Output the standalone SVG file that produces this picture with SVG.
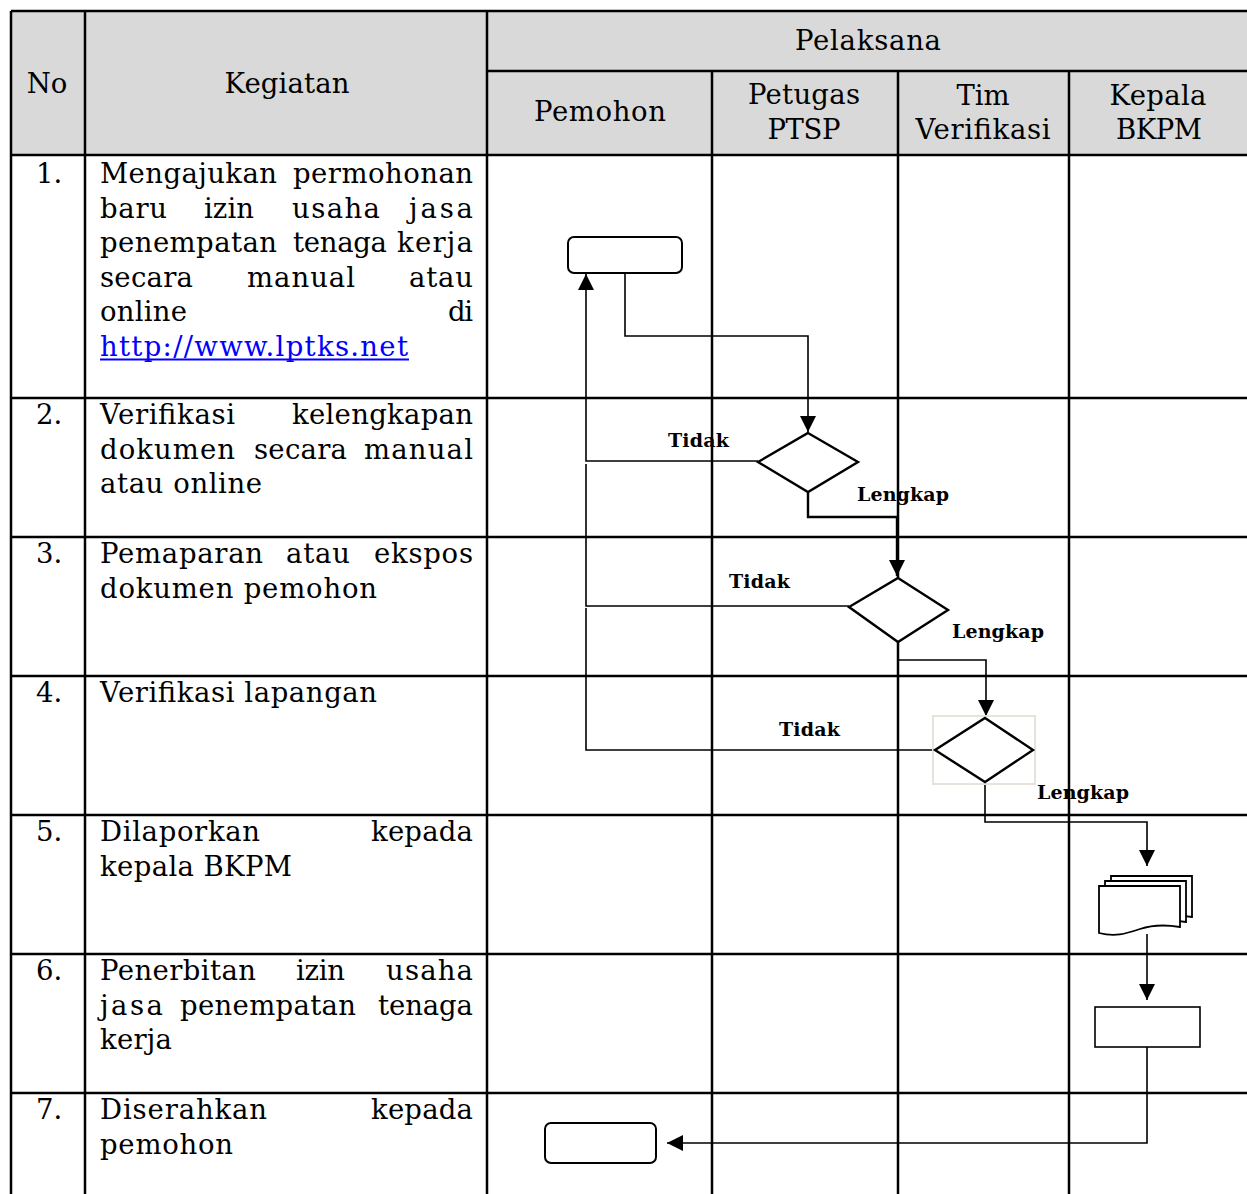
<svg xmlns="http://www.w3.org/2000/svg" width="1247" height="1194" viewBox="0 0 1247 1194">
<style>
.t{font-family:"DejaVu Serif",serif;font-size:27.5px;fill:#000}
.c{text-anchor:middle}
.lbl{font-family:"DejaVu Serif",serif;font-weight:bold;font-size:19px;fill:#000}
.grid{stroke:#000;stroke-width:2.5;fill:none}
.conn{stroke:#000;stroke-width:1.6;fill:none}
.arr{marker-end:url(#ah)}
.shape{fill:#fff;stroke:#000;stroke-width:2.4}
.link{fill:#0000ff}
</style>
<defs>
<marker id="ah" viewBox="0 0 16 16" markerWidth="16" markerHeight="16" refX="16" refY="8" markerUnits="userSpaceOnUse" orient="auto">
<path d="M0,0 L16,8 L0,16 z" fill="#000"/>
</marker>
</defs>
<rect width="1247" height="1194" fill="#fff"/>
<g id="table">
<rect x="11" y="11" width="1236" height="144" fill="#d9d9d9"/>
<path class="grid" d="M11,11 H1247 M487,71 H1247 M11,155 H1247 M11,398 H1247 M11,537 H1247 M11,676 H1247 M11,815 H1247 M11,954 H1247 M11,1093 H1247 M11,11 V1194 M85,11 V1194 M487,11 V1194 M712,71 V1194 M898,71 V1194 M1069,71 V1194"/>
<text class="t c" x="47" y="93">No</text>
<text class="t c" x="287" y="93" textLength="125">Kegiatan</text>
<text class="t c" x="868" y="50" textLength="146">Pelaksana</text>
<text class="t c" x="600" y="121" textLength="132">Pemohon</text>
<text class="t c" x="804" y="104" textLength="112">Petugas</text>
<text class="t c" x="804" y="139" textLength="73">PTSP</text>
<text class="t c" x="983" y="105" textLength="53">Tim</text>
<text class="t c" x="983" y="139" textLength="135">Verifikasi</text>
<text class="t c" x="1158" y="105" textLength="97">Kepala</text>
<text class="t c" x="1159" y="139" textLength="86">BKPM</text>
</g>
<g id="rows">
<text class="t" x="36" y="183">1.</text>
<text class="t" x="100" y="183" textLength="177">Mengajukan</text>
<text class="t" x="293" y="183" textLength="180">permohonan</text>
<text class="t" x="100" y="217.5" textLength="67">baru</text>
<text class="t" x="204" y="217.5" textLength="50">izin</text>
<text class="t" x="292" y="217.5" textLength="88">usaha</text>
<text class="t" x="409" y="217.5" textLength="64">jasa</text>
<text class="t" x="100" y="252" textLength="177">penempatan</text>
<text class="t" x="293" y="252" textLength="94">tenaga</text>
<text class="t" x="397" y="252" textLength="76">kerja</text>
<text class="t" x="100" y="286.5" textLength="93">secara</text>
<text class="t" x="247" y="286.5" textLength="108">manual</text>
<text class="t" x="409" y="286.5" textLength="64">atau</text>
<text class="t" x="100" y="321" textLength="87">online</text>
<text class="t" x="448" y="321" textLength="25">di</text>
<text class="t link" x="100" y="355.5" textLength="308">http://www.lptks.net</text>
<line x1="100" y1="359.5" x2="409" y2="359.5" stroke="#0000ff" stroke-width="1.8"/>

<text class="t" x="36" y="424">2.</text>
<text class="t" x="100" y="424" textLength="135">Verifikasi</text>
<text class="t" x="292" y="424" textLength="181">kelengkapan</text>
<text class="t" x="100" y="458.5" textLength="135">dokumen</text>
<text class="t" x="254" y="458.5" textLength="93">secara</text>
<text class="t" x="364" y="458.5" textLength="109">manual</text>
<text class="t" x="100" y="493" textLength="162">atau online</text>

<text class="t" x="36" y="563">3.</text>
<text class="t" x="100" y="563" textLength="163">Pemaparan</text>
<text class="t" x="286" y="563" textLength="64">atau</text>
<text class="t" x="374" y="563" textLength="99">ekspos</text>
<text class="t" x="100" y="597.5" textLength="277">dokumen pemohon</text>

<text class="t" x="36" y="702">4.</text>
<text class="t" x="100" y="702" textLength="277">Verifikasi lapangan</text>

<text class="t" x="36" y="841">5.</text>
<text class="t" x="100" y="841" textLength="160">Dilaporkan</text>
<text class="t" x="371" y="841" textLength="102">kepada</text>
<text class="t" x="100" y="875.5" textLength="192">kepala BKPM</text>

<text class="t" x="36" y="980">6.</text>
<text class="t" x="100" y="980" textLength="156">Penerbitan</text>
<text class="t" x="296" y="980" textLength="49">izin</text>
<text class="t" x="386" y="980" textLength="87">usaha</text>
<text class="t" x="100" y="1014.5" textLength="63">jasa</text>
<text class="t" x="180" y="1014.5" textLength="176">penempatan</text>
<text class="t" x="378" y="1014.5" textLength="95">tenaga</text>
<text class="t" x="100" y="1049" textLength="72">kerja</text>

<text class="t" x="36" y="1119">7.</text>
<text class="t" x="100" y="1119" textLength="167">Diserahkan</text>
<text class="t" x="371" y="1119" textLength="102">kepada</text>
<text class="t" x="100" y="1153.5" textLength="133">pemohon</text>
</g>
<g id="connectors">
<path class="conn arr" d="M625,273 V336 H808 V432"/>
<path class="conn arr" d="M758,461 H586 V274"/>
<path class="conn" d="M849,606 H586 V464"/>
<path class="conn" d="M934,750 H586 V608"/>
<path class="conn arr" d="M808,492 V517 H897 V576" style="stroke-width:2.4"/>
<path class="conn arr" d="M898,642 V660 H986 V716"/>
<path class="conn arr" d="M985,782 V822 H1147 V866"/>
<path class="conn arr" d="M1147,934 V1000"/>
<path class="conn arr" d="M1147,1047 V1143 H667"/>
</g>
<g id="labels">
<text class="lbl" x="668" y="447" textLength="61">Tidak</text>
<text class="lbl" x="857" y="501" textLength="92">Lengkap</text>
<text class="lbl" x="729" y="588" textLength="61">Tidak</text>
<text class="lbl" x="952" y="638" textLength="92">Lengkap</text>
<text class="lbl" x="779" y="736" textLength="61">Tidak</text>
<text class="lbl" x="1037" y="799" textLength="92">Lengkap</text>
</g>
<g id="start">
<rect class="shape" x="568" y="237" width="114" height="36" rx="6" style="stroke-width:2"/>
</g>
<g id="decision1">
<polygon class="shape" points="808,433 858,462 808,492 758,462"/>
</g>
<g id="decision2">
<polygon class="shape" points="898,578 948,610 898,642 849,607"/>
</g>
<g id="decision3">
<rect x="933" y="716" width="102" height="68" fill="#fff" stroke="#e6e3dc" stroke-width="2"/>
<polygon class="shape" points="985,718 1033,750 985,782 935,750"/>
</g>
<g id="report">
<path class="shape" style="stroke-width:1.8" transform="translate(12,-10)" d="M1099,886 H1180 V927 C1168,925 1155,924 1140,929 C1125,934 1115,937 1099,933 Z"/>
<path class="shape" style="stroke-width:1.8" transform="translate(6,-5)" d="M1099,886 H1180 V927 C1168,925 1155,924 1140,929 C1125,934 1115,937 1099,933 Z"/>
<path class="shape" style="stroke-width:1.8" d="M1099,886 H1180 V927 C1168,925 1155,924 1140,929 C1125,934 1115,937 1099,933 Z"/>
</g>
<g id="issue">
<rect class="shape" x="1095" y="1007" width="105" height="40" style="stroke-width:1.6"/>
</g>
<g id="end">
<rect class="shape" x="545" y="1123" width="111" height="40" rx="6" style="stroke-width:2"/>
</g>
</svg>
